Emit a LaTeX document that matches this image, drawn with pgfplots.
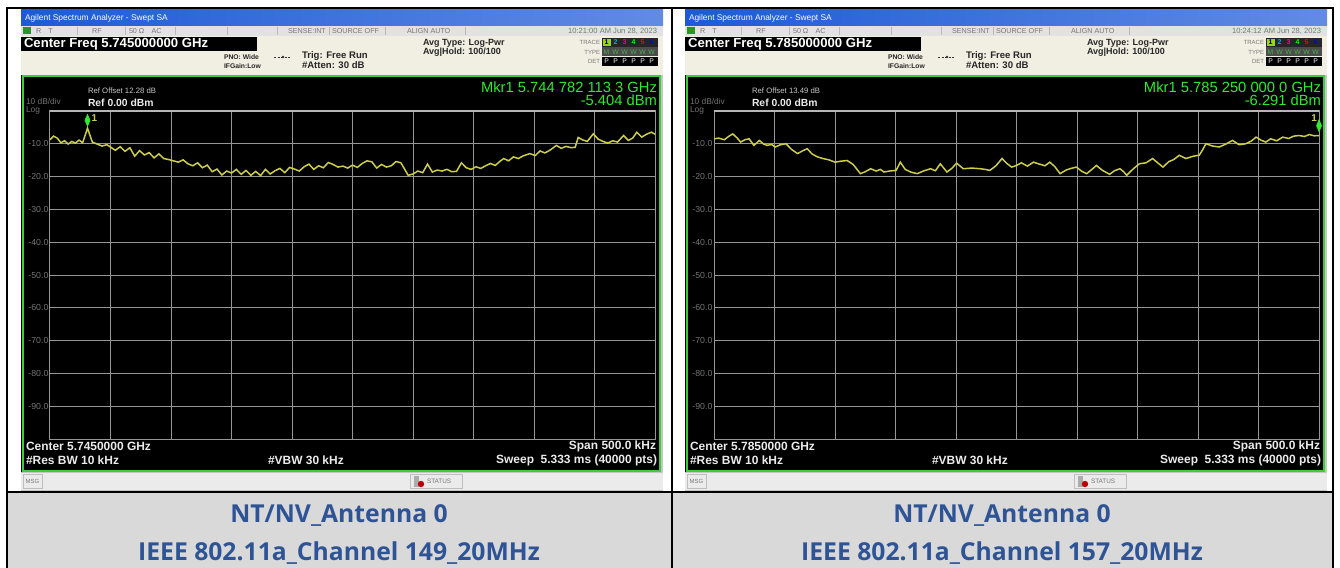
\documentclass[border=0pt]{standalone}
\usepackage{fontspec}
\setmainfont{Liberation Sans}
\newfontfamily\capfont{Open Sans}
\usepackage{pgfplots}
\pgfplotsset{compat=1.18}
\usepackage{pgfplotstable}

\definecolor{trace}{RGB}{205,205,70}
\definecolor{mkrgreen}{RGB}{45,235,45}
\definecolor{frgreen}{RGB}{60,205,60}
\definecolor{lxigreen}{RGB}{40,150,40}
\definecolor{beige}{RGB}{241,238,226}
\definecolor{capblue}{RGB}{47,84,150}
\definecolor{capgray}{RGB}{217,217,217}
\definecolor{titleblue}{RGB}{30,90,215}
\definecolor{gridgray}{RGB}{150,150,150}
\definecolor{ticktxt}{RGB}{115,115,115}
\definecolor{dimtxt}{RGB}{120,120,120}
\definecolor{scrtxt}{RGB}{235,235,235}
\definecolor{statusgray}{RGB}{226,226,226}

\newcommand{\fs}[1]{\fontsize{#1}{#1}\selectfont}

% trace, channel 149 (x in divisions, y in dBm)
\pgfplotstableread{
x y
0.00 -8.9
0.06 -7.8
0.12 -8.4
0.18 -9.8
0.24 -9.2
0.30 -10.2
0.36 -9.4
0.42 -9.9
0.48 -9.0
0.54 -9.8
0.62 -5.4
0.70 -9.6
0.78 -10.2
0.86 -10.8
0.94 -10.4
1.00 -11.1
1.08 -12.1
1.16 -11.0
1.24 -12.4
1.32 -11.3
1.40 -13.9
1.48 -12.2
1.56 -13.5
1.64 -12.8
1.72 -14.4
1.80 -13.2
1.88 -14.6
1.96 -14.9
2.04 -15.3
2.12 -15.7
2.20 -15.0
2.28 -16.2
2.36 -16.8
2.44 -15.9
2.52 -17.4
2.60 -16.6
2.68 -18.6
2.76 -17.8
2.84 -19.6
2.92 -18.4
3.00 -19.0
3.08 -17.9
3.16 -19.4
3.24 -18.2
3.32 -19.7
3.40 -18.5
3.48 -19.8
3.56 -17.9
3.64 -19.3
3.72 -18.3
3.80 -17.6
3.88 -18.9
3.96 -17.3
4.04 -17.8
4.12 -18.4
4.20 -17.1
4.28 -16.3
4.36 -17.9
4.44 -16.8
4.52 -17.4
4.60 -15.8
4.68 -16.4
4.76 -17.2
4.84 -16.9
4.92 -17.5
5.00 -16.6
5.08 -17.3
5.16 -16.1
5.24 -15.3
5.32 -15.6
5.40 -17.5
5.48 -16.4
5.56 -17.2
5.64 -16.8
5.72 -15.5
5.80 -15.9
5.86 -17.8
5.92 -19.7
6.00 -19.3
6.08 -18.4
6.16 -18.9
6.24 -16.3
6.32 -18.7
6.40 -18.1
6.48 -18.4
6.56 -17.9
6.64 -18.6
6.72 -18.5
6.80 -15.9
6.88 -17.4
6.96 -17.9
7.04 -17.1
7.12 -17.6
7.20 -16.8
7.28 -16.1
7.36 -16.7
7.44 -15.4
7.50 -14.6
7.58 -15.3
7.66 -14.1
7.74 -14.6
7.82 -13.8
7.93 -13.1
8.02 -13.7
8.10 -12.3
8.18 -12.9
8.26 -12.1
8.37 -10.6
8.45 -11.5
8.53 -10.9
8.61 -11.3
8.68 -11.2
8.73 -8.2
8.80 -8.9
8.88 -9.4
8.98 -7.1
9.06 -8.7
9.14 -9.4
9.22 -9.9
9.30 -9.2
9.38 -9.6
9.48 -7.6
9.56 -9.1
9.63 -8.4
9.70 -6.6
9.78 -8.1
9.86 -7.2
9.94 -6.6
10.00 -7.2
}\traceA

% trace, channel 157
\pgfplotstableread{
x y
0.00 -8.6
0.08 -8.4
0.17 -8.9
0.24 -7.9
0.31 -7.1
0.38 -8.3
0.44 -9.6
0.51 -8.9
0.58 -8.6
0.66 -10.6
0.75 -9.1
0.82 -10.2
0.88 -10.6
0.95 -10.3
1.01 -11.1
1.10 -10.4
1.19 -10.1
1.28 -11.8
1.38 -13.1
1.46 -12.3
1.54 -11.6
1.62 -13.2
1.71 -14.1
1.80 -14.6
1.90 -15.0
2.00 -15.7
2.10 -15.4
2.20 -15.2
2.30 -16.4
2.42 -19.2
2.50 -18.6
2.59 -17.7
2.68 -18.4
2.75 -17.9
2.81 -18.7
2.90 -18.4
3.01 -18.2
3.08 -15.7
3.16 -17.9
3.25 -18.7
3.36 -19.2
3.46 -18.4
3.58 -17.7
3.66 -18.3
3.74 -16.2
3.85 -18.7
3.93 -17.6
4.01 -16.0
4.12 -17.7
4.26 -17.5
4.40 -17.7
4.48 -17.9
4.56 -18.2
4.66 -16.8
4.76 -14.6
4.84 -16.1
4.92 -17.2
5.00 -16.7
5.08 -15.9
5.18 -16.9
5.28 -15.7
5.38 -16.3
5.47 -16.8
5.55 -15.7
5.63 -17.0
5.72 -19.2
5.82 -18.1
5.90 -17.6
5.99 -17.2
6.08 -18.5
6.16 -19.2
6.24 -18.0
6.32 -16.7
6.42 -18.2
6.54 -19.4
6.62 -18.3
6.71 -17.7
6.77 -18.6
6.82 -19.7
6.92 -17.9
7.03 -16.2
7.14 -15.9
7.25 -14.6
7.34 -16.0
7.42 -17.2
7.52 -15.5
7.60 -14.9
7.69 -13.6
7.80 -14.6
7.92 -13.9
8.02 -13.6
8.08 -11.8
8.13 -10.1
8.24 -10.8
8.35 -11.1
8.46 -10.2
8.57 -9.1
8.68 -10.4
8.79 -10.1
8.88 -9.3
8.96 -8.1
9.04 -9.0
9.12 -9.6
9.20 -8.6
9.30 -9.2
9.40 -8.1
9.50 -8.5
9.58 -7.8
9.67 -7.6
9.76 -7.9
9.84 -7.3
9.92 -7.7
10.00 -7.6
}\traceB

% analyzer window chrome; #1 x shift (px), #2 centre freq, #3 time, #4 ref offset,
% #5 marker freq, #6 marker level, #7 centre label
\newcommand{\panel}[7]{%
\begin{scope}[shift={(#1,0)}]
  \fill[gray!45] (21,10) rectangle (663,491);
  % title bar
  \shade[left color=titleblue, right color=titleblue!70!white] (21,10) rectangle (663,26);
  \node[anchor=west, text=white, font=\fs{4.2}] at (25,18.5) {Agilent Spectrum Analyzer - Swept SA};
  % status row
  \fill[statusgray] (21,26) rectangle (663,36);
  \fill[lxigreen] (23,27.5) rectangle (31,34.5);
  \foreach \sx in {77,125,175,227,277,329,385,465}{\draw[gray!55, line width=0.4bp] (\sx,27) -- (\sx,35);}
  \node[anchor=west, text=dimtxt, font=\fs{3.6}] at (36,31) {R\quad T};
  \node[text=dimtxt, font=\fs{3.6}] at (97,31) {RF};
  \node[anchor=west, text=dimtxt, font=\fs{3.6}] at (129,31) {50 Ω\quad AC};
  \node[anchor=west, text=dimtxt, font=\fs{3.6}] at (288,31) {SENSE:INT};
  \node[anchor=west, text=dimtxt, font=\fs{3.6}] at (332,31) {SOURCE OFF};
  \node[anchor=west, text=dimtxt, font=\fs{3.6}] at (407,31) {ALIGN AUTO};
  \node[anchor=east, text=dimtxt, font=\fs{3.8}] at (657,31) {#3};
  % settings area
  \fill[beige] (21,36) rectangle (663,75);
  \fill[black] (21,37) rectangle (257,51);
  \node[anchor=west, text=white, font=\bfseries\fs{6.6}] at (24,44.5) {Center Freq #2};
  \node[anchor=west, text=black!85, font=\bfseries\fs{3.4}] at (224,57) {PNO: Wide};
  \node[anchor=west, text=black!85, font=\bfseries\fs{3.4}] at (224,66) {IFGain:Low};
  \draw[black!80, line width=0.4bp, dash pattern=on 1bp off 0.8bp] (274,57) -- (292,57);
  \fill[black!80] (283,57) circle (1.4);
  \node[anchor=west, text=black!85, font=\bfseries\fs{4.8}] at (302,56) {Trig: Free Run};
  \node[anchor=west, text=black!85, font=\bfseries\fs{4.8}] at (302,65.5) {\#Atten: 30 dB};
  \node[anchor=west, text=black!85, font=\bfseries\fs{4.5}] at (423,43) {Avg Type: Log-Pwr};
  \node[anchor=west, text=black!85, font=\bfseries\fs{4.5}] at (423,52.5) {Avg|Hold: 100/100};
  \node[anchor=east, text=dimtxt, font=\fs{3}] at (600,42.5) {TRACE};
  \node[anchor=east, text=dimtxt, font=\fs{3}] at (600,52) {TYPE};
  \node[anchor=east, text=dimtxt, font=\fs{3}] at (600,61.5) {DET};
  \fill[black!85] (602,38) rectangle (658,47);
  \fill[black!70] (602,47.5) rectangle (658,56.5);
  \fill[black] (602,57) rectangle (658,66);
  \fill[yellow!60!green] (603,39) rectangle (611,46);
  \foreach \i/\c in {1/black,2/cyan,3/magenta,4/green,5/red,6/blue}{%
    \node[text=\c, font=\bfseries\fs{3.5}] at ({602+9*\i-4.5},42.5) {\i};}
  \foreach \i/\t in {1/M,2/W,3/W,4/W,5/W,6/W}{%
    \node[text=gray!60!green, font=\fs{3.4}] at ({602+9*\i-4.5},52) {\t};}
  \foreach \i in {1,...,6}{%
    \node[text=white, font=\fs{3.4}] at ({602+9*\i-4.5},61.5) {P};}
  % display
  \fill[black] (21,75.5) rectangle (661,472);
  \draw[frgreen, line width=1bp] (22.5,76.5) rectangle (659.5,471);
  \node[anchor=west, text=gray!45, font=\fs{3.9}] at (88,91) {Ref Offset #4 dB};
  \node[anchor=west, text=scrtxt, font=\bfseries\fs{5.2}] at (88,102.5) {Ref 0.00 dBm};
  \node[anchor=west, text=ticktxt, font=\fs{4.2}] at (26,101.5) {10 dB/div};
  \node[anchor=west, text=ticktxt, font=\fs{4.2}] at (26,110.5) {Log};
  \node[anchor=east, text=mkrgreen, font=\fs{7.4}] at (657,87) {Mkr1 #5};
  \node[anchor=east, text=mkrgreen, font=\fs{7.4}] at (657,100.5) {#6};
  \node[anchor=west, text=scrtxt, font=\bfseries\fs{6}] at (26,446.5) {Center #7};
  \node[anchor=west, text=scrtxt, font=\bfseries\fs{6}] at (26,460) {\#Res BW 10 kHz};
  \node[anchor=west, text=scrtxt, font=\bfseries\fs{6}] at (268,460) {\#VBW 30 kHz};
  \node[anchor=east, text=scrtxt, font=\bfseries\fs{6}] at (656,446.5) {Span 500.0 kHz};
  \node[anchor=east, text=scrtxt, font=\bfseries\fs{6}] at (657,460) {Sweep\ \ 5.333 ms (40000 pts)};
  % message bar
  \fill[statusgray!70!white] (21,472.5) rectangle (663,490);
  \draw[gray!50, line width=0.4bp] (23,474.5) rectangle (42,488);
  \node[text=dimtxt, font=\fs{3}] at (32.5,481.5) {MSG};
  \draw[gray!50, line width=0.4bp] (410,474.5) rectangle (462,488);
  \fill[gray!65] (414,476) rectangle (419,487);
  \fill[red!75!black] (421,484) circle (3.2);
  \node[anchor=west, text=dimtxt, font=\fs{3.2}] at (427,481) {STATUS};
\end{scope}}

\pgfplotsset{scrn/.style={
  scale only axis, width=302.5bp, height=164.5bp, anchor=north west,
  xmin=0, xmax=10, ymin=-100, ymax=0,
  xtick={0,1,...,10}, ytick={-100,-90,...,0},
  xticklabels={},
  yticklabels={{},-90.0,-80.0,-70.0,-60.0,-50.0,-40.0,-30.0,-20.0,-10.0,{}},
  grid=major, major grid style={gridgray, line width=0.5bp},
  axis line style={gridgray, line width=0.5bp},
  tick style={draw=none},
  axis background/.style={fill=black},
  yticklabel style={font=\fs{4.4}, text=ticktxt, inner sep=0pt, xshift=-0.8bp},
}}

\begin{document}
\begin{tikzpicture}[x=0.5bp, y=-0.5bp, every node/.append style={inner sep=0pt, outer sep=0pt}]
\path[use as bounding box, fill=white] (0,0) rectangle (1340,568);
\fill[capgray] (7,492) rectangle (1333,568);

\panel{0}{5.745000000 GHz}{10:21:00 AM Jun 28, 2023}{12.28}{5.744 782 113 3 GHz}{-5.404 dBm}{5.7450000 GHz}
\panel{664}{5.785000000 GHz}{10:24:12 AM Jun 28, 2023}{13.49}{5.785 250 000 0 GHz}{-6.291 dBm}{5.7850000 GHz}

% table rules
\draw[black, line width=1bp] (7,568) -- (7,8) -- (1333,8) -- (1333,568);
\draw[black, line width=1bp] (671.5,8) -- (671.5,568);
\draw[black, line width=1bp] (7,492) -- (1333,492);

% captions
\node[text=capblue, font=\capfont\bfseries\fs{12.4}] at (339,515) {NT/NV\_Antenna 0};
\node[text=capblue, font=\capfont\bfseries\fs{12.4}] at (339,553) {IEEE 802.11a\_Channel 149\_20MHz};
\node[text=capblue, font=\capfont\bfseries\fs{12.4}] at (1002,515) {NT/NV\_Antenna 0};
\node[text=capblue, font=\capfont\bfseries\fs{12.4}] at (1002,553) {IEEE 802.11a\_Channel 157\_20MHz};

\coordinate (gA) at (50,110.5);
\coordinate (gB) at (714,110.5);

\begin{axis}[scrn, at={(gA)}]
  \draw[gridgray!70!white, line width=1.2bp] (rel axis cs:0,1) -- (rel axis cs:1,1);
  \addplot[trace, line width=0.75bp, mark=none] table {\traceA};
  \addplot[only marks, mark=diamond*, mark size=1.6bp, mark options={yscale=1.8, fill=mkrgreen, draw=mkrgreen}] coordinates {(0.62,-3.0)};
  \node[anchor=west, text=trace, font=\bfseries\fs{5}] at (axis cs:0.69,-2.4) {1};
\end{axis}

\begin{axis}[scrn, at={(gB)}]
  \draw[gridgray!70!white, line width=1.2bp] (rel axis cs:0,1) -- (rel axis cs:1,1);
  \addplot[trace, line width=0.75bp, mark=none] table {\traceB};
  \addplot[only marks, mark=diamond*, mark size=1.6bp, mark options={yscale=1.8, fill=mkrgreen, draw=mkrgreen}] coordinates {(10,-4.6)};
  \node[text=trace, font=\bfseries\fs{5}] at (axis cs:9.92,-2.4) {1};
\end{axis}
\end{tikzpicture}
\end{document}
